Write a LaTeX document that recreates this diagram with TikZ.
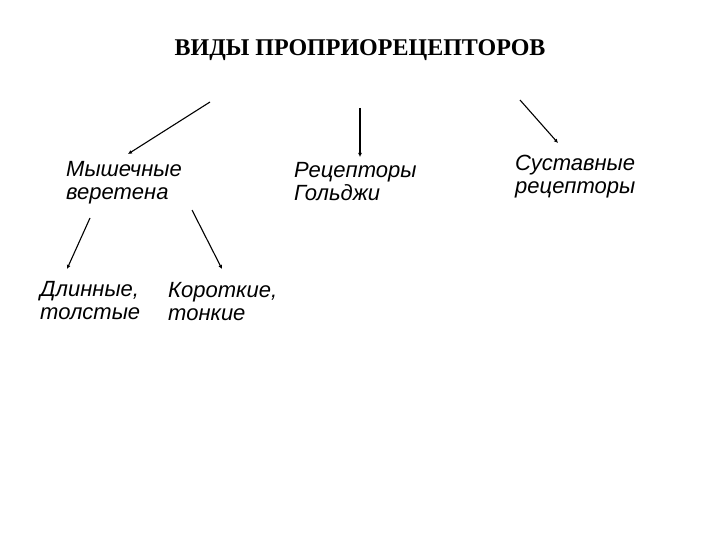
\documentclass[tikz,border=0pt]{standalone}
\usepackage{fontspec}
\setmainfont{Liberation Serif}
\setsansfont{Liberation Sans}
\usetikzlibrary{arrows.meta}
\begin{document}
\begin{tikzpicture}[x=1pt,y=-1pt,
  lbl/.style={anchor=north west,align=left,font=\sffamily\itshape\fontsize{22}{23}\selectfont,inner sep=0pt},
  arr/.style={-{Latex[length=4pt,width=4pt]},line width=1.1pt}]
\useasboundingbox[fill=white] (0,0) rectangle (720,540);
\node[font=\bfseries\fontsize{24}{26}\selectfont] (t) at (360,50) {ВИДЫ ПРОПРИОРЕЦЕПТОРОВ};
\node[lbl] (m) at (66,161) {Мышечные\\веретена};
\node[lbl] (g) at (294,162) {Рецепторы\\Гольджи};
\node[lbl] (s) at (515,155) {Суставные\\рецепторы};
\node[lbl] (d) at (40,281) {Длинные,\\толстые};
\node[lbl] (k) at (168,282) {Короткие,\\тонкие};
\coordinate (a1) at (210,102); \coordinate (b1) at (128,154);
\coordinate (a2) at (360,108); \coordinate (b2) at (360,157);
\coordinate (a3) at (520,100); \coordinate (b3) at (558,143);
\coordinate (a4) at (90,218); \coordinate (b4) at (67,269);
\coordinate (a5) at (192,210); \coordinate (b5) at (222,269);
\draw[arr] (a1) -- (b1);
\draw[arr] (a2) -- (b2);
\draw[arr] (a3) -- (b3);
\draw[arr] (a4) -- (b4);
\draw[arr] (a5) -- (b5);
\end{tikzpicture}
\end{document}
